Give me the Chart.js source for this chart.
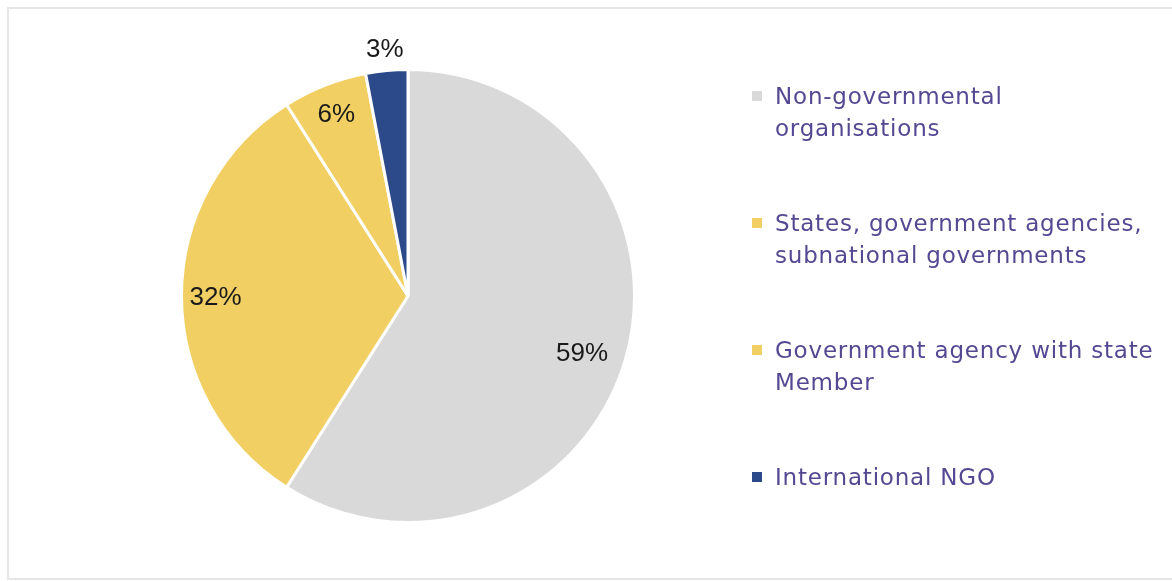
<!DOCTYPE html>
<html>
<head>
<meta charset="utf-8">
<script src="https://cdn.jsdelivr.net/npm/chart.js@4"></script>
<style>
  html, body { margin: 0; padding: 0; background: #fff; }
  #wrap { position: relative; width: 1172px; height: 581px; overflow: hidden; }
  #frame { position: absolute; left: 7px; top: 7px; width: 1170px; height: 569px; border: 2px solid #e6e6e6; pointer-events: none; }
  #pie { position: absolute; left: 0; top: 0; }
  #legend { position: absolute; left: 752px; top: 80px; margin: 0; padding: 0; list-style: none;
            font-family: "DejaVu Sans", sans-serif; font-size: 23px; letter-spacing: 0.8px; color: #544893; }
  #legend li { position: relative; padding-left: 23px; line-height: 32px; margin-bottom: 63px; white-space: nowrap; }
  #legend li span.box { position: absolute; left: 0; top: 11px; width: 10px; height: 10px; }
</style>
</head>
<body>
<div id="wrap">
  <canvas id="pie" width="1172" height="581"></canvas>
  <ul id="legend"></ul>
  <div id="frame"></div>
</div>
<script>
// datos
const categorias = [
  ['Non-governmental', 'organisations'],
  ['States, government agencies,', 'subnational governments'],
  ['Government agency with state', 'Member'],
  ['International NGO']
];
const porcentajes = [59, 32, 6, 3];
const colores = ['#d9d9d9', '#f2cf63', '#f2cf63', '#2c4a8a'];

// posición de etiquetas: factor radial y ajuste fino
const etiquetaPos = [
  { f: 0.80, dy: 7 },
  { f: 0.85, dy: 2 },
  { f: 0.86, dy: 0 },
  { f: 1.09, dy: 0 }
];

const etiquetas = {
  id: 'etiquetas',
  afterDatasetsDraw(chart) {
    const ctx = chart.ctx;
    const meta = chart.getDatasetMeta(0);
    ctx.save();
    ctx.font = '26px "Liberation Sans", Arial, sans-serif';
    ctx.fillStyle = '#1a1a1a';
    ctx.textAlign = 'center';
    ctx.textBaseline = 'middle';
    meta.data.forEach((arc, i) => {
      const p = arc.getProps(['x', 'y', 'startAngle', 'endAngle', 'outerRadius'], true);
      const mid = (p.startAngle + p.endAngle) / 2;
      const pos = etiquetaPos[i];
      const x = p.x + Math.cos(mid) * p.outerRadius * pos.f;
      const y = p.y + Math.sin(mid) * p.outerRadius * pos.f + pos.dy;
      ctx.fillText(porcentajes[i] + '%', x, y);
    });
    ctx.restore();
  }
};

document.addEventListener('DOMContentLoaded', () => {
  const el = document.getElementById('pie');
  new Chart(el, {
    type: 'pie',
    data: {
      labels: categorias.map(c => c.join(' ')),
      datasets: [{
        data: porcentajes,
        backgroundColor: colores,
        borderColor: '#ffffff',
        borderWidth: 3
      }]
    },
    options: {
      responsive: false,
      animation: false,
      layout: { padding: { left: 180, right: 536, top: 67, bottom: 56 } },
      plugins: { legend: { display: false }, tooltip: { enabled: false } }
    },
    plugins: [etiquetas]
  });

  // leyenda en HTML
  const ul = document.getElementById('legend');
  categorias.forEach((lineas, i) => {
    const li = document.createElement('li');
    const box = document.createElement('span');
    box.className = 'box';
    box.style.background = colores[i];
    li.appendChild(box);
    lineas.forEach((t, k) => {
      if (k > 0) li.appendChild(document.createElement('br'));
      li.appendChild(document.createTextNode(t));
    });
    ul.appendChild(li);
  });
});
</script>
</body>
</html>
